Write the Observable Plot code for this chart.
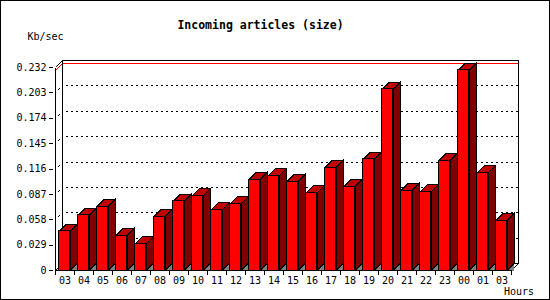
<!DOCTYPE html>
<html><head><meta charset="utf-8">
<script src="https://cdn.jsdelivr.net/npm/d3@7"></script>
<script src="https://cdn.jsdelivr.net/npm/@observablehq/plot@0.6"></script>
<style>
html,body{margin:0;padding:0;background:#fff;}
#chart{position:relative;width:550px;height:300px;overflow:hidden;background:#fff;font-family:"DejaVu Sans Mono",monospace;color:#000;}
#chart svg{position:absolute;left:0;top:0;}
.t{position:absolute;white-space:nowrap;line-height:1;}
#border{position:absolute;left:0;top:0;width:550px;height:300px;box-sizing:border-box;border:1px solid #000;pointer-events:none;}
</style></head><body>
<div id="chart">
  <div class="t" id="title"></div>
  <div class="t" id="ylab"></div>
  <div class="t" id="xlab"></div>
  <div id="border"></div>
</div>
<script>
const hours = ["03","04","05","06","07","08","09","10","11","12","13","14","15","16","17","18","19","20","21","22","23","00","01","03"];
const kbps = [0.0446,0.0629,0.0731,0.0400,0.0305,0.0617,0.0789,0.0853,0.0693,0.0762,0.1040,0.1082,0.1017,0.0888,0.1177,0.0960,0.1269,0.2069,0.0914,0.0899,0.1257,0.2286,0.1116,0.0571];
const yTicks = [0,0.029,0.058,0.087,0.116,0.145,0.174,0.203,0.232];
const titleText = "Incoming articles (size)";
const yLabelText = "Kb/sec";
const xLabelText = "Hours";

const FRONT = "#ff0000", SIDE = "#800000", TOP = "#c00000", FLOOR = "#808080", MAXLINE = "#ff0000";
const DEPTH = 7, INSET_L = 3.5, INSET_R = 4.5;
const n = hours.length;
const idx = d3.range(n);
const yMax = yTicks[yTicks.length - 1];
const P = v => Math.round(v) + 0.5;

function backPlane(index, scales) {
  const {x, y} = scales;
  const g = d3.create("svg:g").attr("fill", "none").attr("shape-rendering", "crispEdges");
  const bw = x(1) - x(0);
  const L = x(0), R = x(n - 1) + bw, B = y(0), T = y(yMax);
  const bl = P(L + DEPTH), br = P(R + DEPTH), bt = P(T - DEPTH), bb = P(B - DEPTH);
  for (const t of yTicks.slice(1, -1)) {
    const yy = P(y(t) - DEPTH);
    g.append("line").attr("x1", bl + 3).attr("x2", br).attr("y1", yy).attr("y2", yy)
      .attr("stroke", "#000").attr("stroke-dasharray", "2,3");
  }
  const ym = y(d3.max(kbps));
  g.append("polyline").attr("points", `${P(L)},${P(ym)} ${bl},${P(ym - DEPTH)} ${br},${P(ym - DEPTH)}`).attr("stroke", MAXLINE);
  g.append("polyline").attr("points", `${bl},${bb} ${bl},${bt} ${br},${bt} ${br},${bb}`).attr("stroke", "#000");
  g.append("line").attr("x1", bl).attr("x2", br).attr("y1", bb).attr("y2", bb).attr("stroke", "#000");
  g.append("line").attr("x1", P(L)).attr("y1", P(T)).attr("x2", bl).attr("y2", bt).attr("stroke", "#000");
  g.append("line").attr("x1", P(L)).attr("y1", P(B)).attr("x2", bl).attr("y2", bb).attr("stroke", "#000");
  g.append("line").attr("x1", P(R)).attr("y1", P(B)).attr("x2", br).attr("y2", bb).attr("stroke", "#000");
  for (const t of yTicks.slice(0, -1)) {
    const yy = P(y(t));
    g.append("line").attr("x1", P(L) + 2).attr("y1", yy - 2).attr("x2", P(L) + 4).attr("y2", yy - 4).attr("stroke", "#000");
  }
  return g.node();
}

function barDepth(index, scales) {
  const {x, y} = scales;
  const g = d3.create("svg:g").attr("shape-rendering", "crispEdges").attr("stroke-linejoin", "miter");
  const bw = x(1) - x(0);
  const yb = y(0) + 0.5;
  for (const i of idx) {
    const xa = x(i) + INSET_L + 0.5, xb = x(i) + bw - INSET_R + 0.5;
    const yt = y(kbps[i]) + 0.5;
    g.append("polygon").attr("points", `${xb},${yb} ${xb + DEPTH},${yb} ${xb + DEPTH},${yb - DEPTH}`).attr("fill", FLOOR);
    g.append("polygon").attr("points", `${xb},${yt} ${xb + DEPTH},${yt - DEPTH} ${xb + DEPTH},${yb - DEPTH} ${xb},${yb}`)
      .attr("fill", SIDE).attr("stroke", "#000");
    g.append("polygon").attr("points", `${xa},${yt} ${xa + DEPTH},${yt - DEPTH} ${xb + DEPTH},${yt - DEPTH} ${xb},${yt}`)
      .attr("fill", TOP).attr("stroke", "#000");
  }
  return g.node();
}

function frontAxes(index, scales) {
  const {x, y} = scales;
  const g = d3.create("svg:g").attr("fill", "none").attr("stroke", "#000").attr("shape-rendering", "crispEdges");
  const bw = x(1) - x(0);
  const L = x(0), R = x(n - 1) + bw, B = y(0), T = y(yMax);
  g.append("line").attr("x1", P(L)).attr("x2", P(L)).attr("y1", P(T)).attr("y2", P(B));
  g.append("line").attr("x1", P(L)).attr("x2", P(R)).attr("y1", P(B)).attr("y2", P(B));
  for (let i = 0; i <= n; i++) {
    const xx = P(i < n ? x(i) : R);
    g.append("line").attr("x1", xx).attr("x2", xx).attr("y1", P(B)).attr("y2", P(B) + 4);
  }
  return g.node();
}

const chart = Plot.plot({
  width: 550, height: 300,
  marginLeft: 53, marginRight: 37, marginTop: 67, marginBottom: 30,
  style: {background: "transparent", fontFamily: "DejaVu Sans Mono", fontSize: "10px", color: "#000", overflow: "visible"},
  x: {type: "band", domain: idx, padding: 0, axis: null},
  y: {domain: [0, yMax], axis: null},
  marks: [
    backPlane,
    barDepth,
    Plot.barY(idx, {x: i => i, y: i => kbps[i], fill: FRONT, stroke: "#000", strokeWidth: 1,
      insetLeft: INSET_L, insetRight: INSET_R, shapeRendering: "crispEdges"}),
    frontAxes,
    Plot.axisY({ticks: yTicks, tickFormat: d => d === 0 ? "0" : d.toFixed(3), tickSize: 4, tickPadding: 3,
      anchor: "left", label: null, stroke: "#000", fill: "#000", shapeRendering: "crispEdges"}),
    Plot.axisX({tickFormat: i => hours[i], tickSize: 0, tickPadding: 6, anchor: "bottom", label: null, fill: "#000"})
  ]
});
document.getElementById("chart").insertBefore(chart, document.getElementById("title"));

const tt = document.getElementById("title");
tt.textContent = titleText;
Object.assign(tt.style, {fontWeight: "bold", fontSize: "11.5px", left: "260.5px", top: "20px", transform: "translateX(-50%)"});
const yl = document.getElementById("ylab");
yl.textContent = yLabelText;
Object.assign(yl.style, {fontSize: "10px", left: "27.5px", top: "32px"});
const xl = document.getElementById("xlab");
xl.textContent = xLabelText;
Object.assign(xl.style, {fontSize: "10px", left: "504px", top: "287px"});
</script>
</body></html>
